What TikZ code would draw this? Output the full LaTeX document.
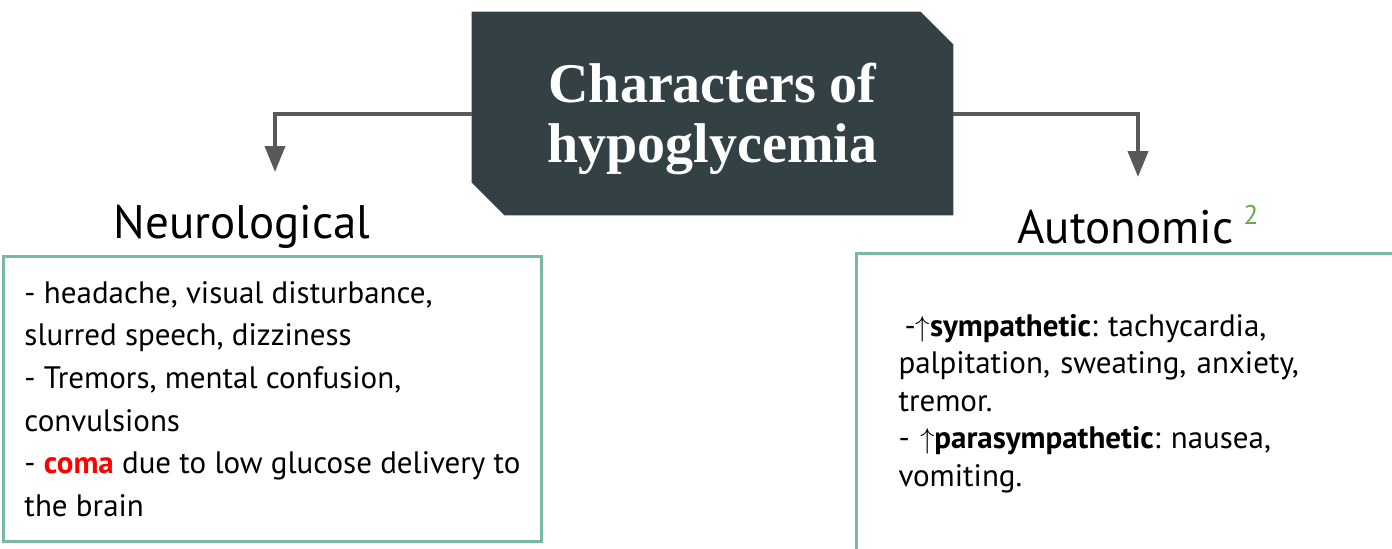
\documentclass[tikz,border=0pt]{standalone}
\usepackage{fontspec}
\setmainfont{PT Sans}
\newfontfamily\titlefont{Liberation Serif}
\usetikzlibrary{arrows.meta,positioning,backgrounds}
\definecolor{slate}{HTML}{334144}
\definecolor{arrowgray}{HTML}{595959}
\definecolor{boxgreen}{HTML}{79B9A2}
\definecolor{supgreen}{HTML}{6AA84F}
\definecolor{comared}{HTML}{FF0000}
\frenchspacing

\begin{document}
\begin{tikzpicture}[x=0.5pt, y=-0.5pt,
	conn/.style = {draw=arrowgray, line width=2pt, -{Triangle[width=10pt,length=13pt]}},
	listbox/.style = {draw=boxgreen, line width=1.5pt, rectangle, anchor=north west, align=left},
	heading/.style = {font=\fontsize{23.5}{28}\selectfont, inner sep=0pt, anchor=base}]
		\useasboundingbox (0,0) rectangle (1392,548);
		\node[minimum width=240.5pt, minimum height=101.5pt, inner sep=0pt] (title) at (712.5,113.5) {};
		\fill[slate] (title.north west) -- ([xshift=-16.5pt]title.north east) -- ([yshift=-16.5pt]title.north east)
			-- (title.south east) -- ([xshift=16.5pt]title.south west) -- ([yshift=16.5pt]title.south west) -- cycle;
		\node[text=white, align=center, font=\titlefont\bfseries\fontsize{28}{30}\selectfont]
			(titletext) at ([yshift=-2.5pt]title.center) {Characters of\\hypoglycemia};
		
		\node[heading] (neuro) at (242,238) {Neurological};
		\node[heading, anchor=base west] (auto) at (1017,243) {Autonomic\hspace{5pt}\raisebox{9.5pt}{\fontsize{13.5}{14}\selectfont\color{supgreen}2}};
		\coordinate (ltip) at (275,172);
		\coordinate (rtip) at (1138,177);
		
		\node[listbox, inner xsep=10pt, minimum width=269pt, minimum height=142.5pt,
			font=\fontsize{15.5}{21.3}\selectfont] (neurobox) at (2,255) {- headache, visual disturbance,\\
			slurred speech, dizziness\\
			- Tremors, mental confusion,\\
			convulsions\\
			- \textbf{\color{comared}coma} due to low glucose delivery to\\
			the brain};
		\node[listbox, text width=235pt, inner xsep=21pt, minimum height=150pt,
			font=\fontsize{15.5}{18.75}\selectfont] (autobox) at (855,252) {\hspace{3pt}-$\uparrow$\textbf{sympathetic}: tachycardia,\\
			palpitation, sweating, anxiety,\\
			tremor.\\
			- $\uparrow$\textbf{parasympathetic}: nausea,\\
			vomiting.};
		
		\draw[conn] (title.west) -| (ltip);
		\draw[conn] (title.east) -| (rtip);
\end{tikzpicture}
\end{document}
